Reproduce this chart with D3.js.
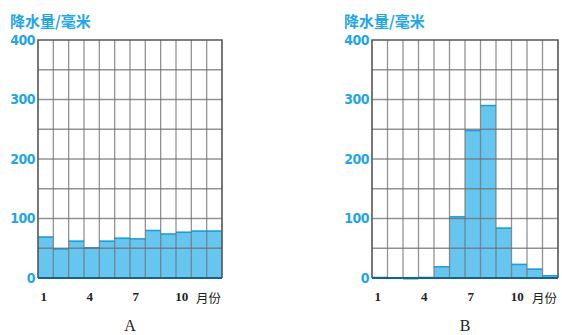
<!DOCTYPE html>
<html><head><meta charset="utf-8">
<script src="https://cdn.jsdelivr.net/npm/d3@7/dist/d3.min.js"></script>
<style>body{margin:0;background:#fff}svg{display:block}</style>
</head><body>
<svg id="c" width="562" height="335"></svg>
<script>
const months = [1,2,3,4,5,6,7,8,9,10,11,12];
const valuesA = [70,50,63,52,63,68,67,81,75,78,80,80];
const valuesB = [2,1,0,2,20,104,249,291,85,24,16,5];
const yTicks = [0,100,200,300,400];
const xTickLabels = ["1","4","7","10"];
const xTickMonths = [1,4,7,10];
const yTitle = "降水量/毫米";
const xUnit = "月份";
const chartNames = ["A","B"];

const svg = d3.select("#c");
const blue = "#1fa6e6";

function drawChart(vals, name, left, right) {
  const top = 40, bottom = 278;
  const x = d3.scaleBand().domain(months).range([left, right]).padding(0);
  const y = d3.scaleLinear().domain([0,400]).range([bottom, top]);
  const g = svg.append("g");
  g.selectAll("rect.bar").data(vals).enter().append("rect")
    .attr("x",(d,i)=>x(months[i])).attr("width",x.bandwidth())
    .attr("y",d=>y(d)).attr("height",d=>bottom-y(d))
    .attr("fill","#66c6ef");
  g.selectAll("line.top").data(vals).enter().append("line")
    .attr("x1",(d,i)=>x(months[i])).attr("x2",(d,i)=>x(months[i])+x.bandwidth())
    .attr("y1",d=>y(d)+0.75).attr("y2",d=>y(d)+0.75)
    .attr("stroke","#1e9fda").attr("stroke-width",1.5);
  const hg = d3.range(50,400,50);
  g.selectAll("line.h").data(hg).enter().append("line")
    .attr("x1",left).attr("x2",right).attr("y1",d=>y(d)).attr("y2",d=>y(d))
    .attr("stroke","#6f6f6f").attr("stroke-opacity",0.75).attr("stroke-width",1.3);
  g.selectAll("line.v").data(months.slice(1)).enter().append("line")
    .attr("x1",d=>x(d)).attr("x2",d=>x(d)).attr("y1",top).attr("y2",bottom)
    .attr("stroke","#6f6f6f").attr("stroke-opacity",0.75).attr("stroke-width",1.3);
  g.append("path").attr("d",`M${left},${bottom}V${top}H${right}V${bottom}`)
    .attr("fill","none").attr("stroke","#555").attr("stroke-width",1.6);
  g.append("line").attr("x1",left).attr("x2",right).attr("y1",bottom).attr("y2",bottom)
    .attr("stroke","#17628c").attr("stroke-width",2);
  const ya = d3.axisLeft(y).tickValues(yTicks).tickSize(0).tickPadding(3);
  const yg = g.append("g").attr("transform",`translate(${left},0)`).call(ya);
  yg.select(".domain").remove();
  yg.selectAll("text").attr("fill",blue).attr("font-family","'Liberation Sans Narrow','DejaVu Sans Condensed',sans-serif")
    .attr("font-weight","bold").attr("font-size",14).attr("letter-spacing","-0.5");
  const xa = d3.axisBottom(x).tickValues(xTickMonths).tickFormat((d,i)=>xTickLabels[i]).tickSize(0).tickPadding(14);
  const xg = g.append("g").attr("transform",`translate(-2,${bottom})`).call(xa);
  xg.select(".domain").remove();
  xg.selectAll("text").attr("fill","#222").attr("font-family","'Liberation Serif',serif")
    .attr("font-weight","bold").attr("font-size",13);
  g.append("text").attr("x",right-1).attr("y",bottom+25).attr("text-anchor","end")
    .attr("font-family","'Noto Sans CJK SC',sans-serif").attr("font-size",12.5).attr("fill","#222").text(xUnit);
  g.append("text").attr("x",left-28).attr("y",27)
    .attr("font-family","'Noto Sans CJK SC',sans-serif").attr("font-weight","bold").attr("font-size",15)
    .attr("fill",blue).text(yTitle);
  g.append("text").attr("x",(left+right)/2).attr("y",331).attr("text-anchor","middle")
    .attr("font-family","'Liberation Serif',serif").attr("font-size",16).attr("fill","#222").text(name);
}
drawChart(valuesA, chartNames[0], 38, 222);
drawChart(valuesB, chartNames[1], 372, 558);
</script>
</body></html>
